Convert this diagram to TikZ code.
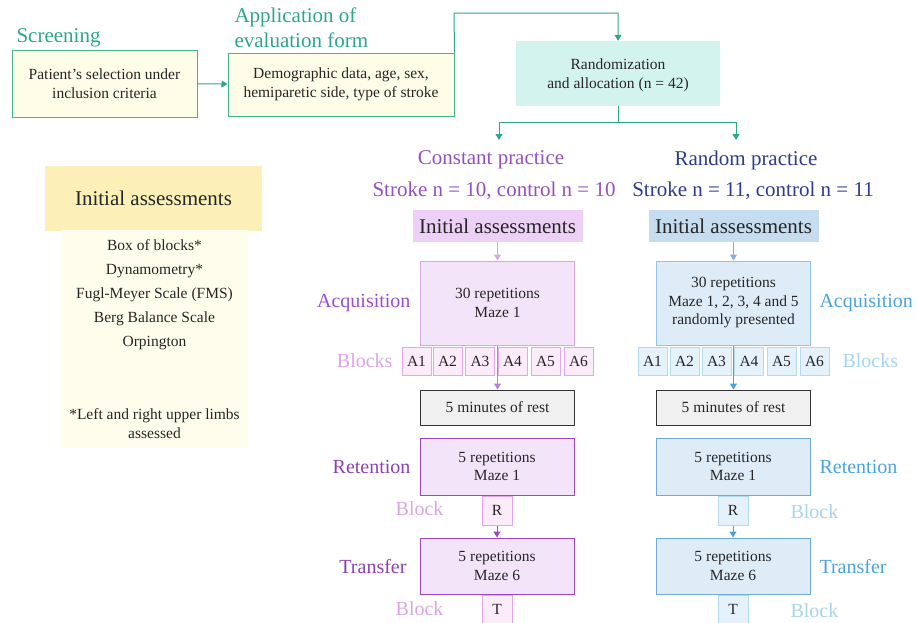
\documentclass[tikz,border=0pt]{standalone}
\usepackage{fontspec}
\setmainfont{Liberation Serif}
\usetikzlibrary{positioning,arrows.meta}
\definecolor{tealc}{HTML}{2BA78A}
\definecolor{boxgreen}{HTML}{45B58A}
\definecolor{paleyel}{HTML}{FDFDE8}
\definecolor{randfill}{HTML}{D3F3EE}
\definecolor{cpurple}{HTML}{9650BE}
\definecolor{rblue}{HTML}{2D3C8C}
\definecolor{iapurple}{HTML}{ECD0F5}
\definecolor{iablue}{HTML}{C6DDF0}
\definecolor{lpfill}{HTML}{F4E4FA}
\definecolor{lpdraw}{HTML}{D7A7E8}
\definecolor{pkfill}{HTML}{FCEBF8}
\definecolor{pkdraw}{HTML}{E0A8EA}
\definecolor{dpurple}{HTML}{9A48C6}
\definecolor{acqp}{HTML}{9B4DCA}
\definecolor{blkp}{HTML}{DCA4E8}
\definecolor{lbfill}{HTML}{DEECF8}
\definecolor{lbdraw}{HTML}{93C3E7}
\definecolor{skyfill}{HTML}{E6F2FB}
\definecolor{skydraw}{HTML}{B4DAF0}
\definecolor{dblue}{HTML}{6FAAD8}
\definecolor{acqb}{HTML}{4AA3DC}
\definecolor{blkb}{HTML}{A6D4EE}
\definecolor{restfill}{HTML}{EFF0EF}
\definecolor{iahead}{HTML}{FCF0B8}
\definecolor{iabody}{HTML}{FFFDEB}
\tikzset{
  txt/.style={font=\fontsize{15.5}{18.5}\selectfont,align=center,text=black!85},
  big/.style={font=\fontsize{21}{25}\selectfont},
  side/.style={font=\fontsize{20}{24}\selectfont},
  head/.style={font=\fontsize{21}{25}\selectfont,text=black!85},
  arr/.style={line width=1pt,-{Triangle[width=7pt,length=6pt]}},
  topbox/.style={txt,draw=boxgreen,fill=paleyel,line width=1pt},
  stagebox/.style={txt,minimum width=154pt,minimum height=#1,inner sep=1pt,line width=1pt},
  blkbox/.style={txt,minimum width=29pt,minimum height=28pt,inner sep=0pt,line width=1pt},
}
\begin{document}
\begin{tikzpicture}[x=1pt,y=-1pt]
\useasboundingbox (0,0) rectangle (917,622);
\node(scr)[topbox,minimum width=185pt,minimum height=67pt] at (104.5,83.5){Patient's selection under\\inclusion criteria};
\node(scrlbl)[big,text=tealc,anchor=base west] at (13,42){Screening};
\node(app)[topbox,minimum width=226pt,minimum height=63pt] at (341,84.5){Demographic data, age, sex,\\hemiparetic side, type of stroke};
\node(applbl)[big,text=tealc,align=left,anchor=base west,font=\fontsize{21}{25}\selectfont] at (231,47){Application of\\evaluation form};
\node(rand)[txt,fill=randfill,minimum width=204pt,minimum height=65pt,text depth=0pt] at (618,73.5){Randomization\\and allocation (n = 42)};
\coordinate(top) at (454,13);
\coordinate(split) at (618,122);
\coordinate(cparr) at (499,140);
\coordinate(rparr) at (736,140);
\draw[arr,tealc] (scr) -- (app);
\draw[arr,tealc] (app.north east) -- (top) -| (rand);
\draw[line width=1pt,tealc] (rand) -- (split);
\draw[arr,tealc] (split) -| (cparr);
\draw[arr,tealc] (split) -| (rparr);
\node(cp)[big,text=cpurple] at (491,160){Constant practice};
\node(cpn)[big,text=cpurple] at (494,191){Stroke n = 10, control n = 10};
\node(rp)[big,text=rblue] at (746,160){Random practice};
\node(rpn)[big,text=rblue] at (753,191){Stroke n = 11, control n = 11};
\node(iah)[head,fill=iahead,minimum width=217pt,minimum height=65pt] at (153.5,198.5){Initial assessments};
\node(iab)[txt,font=\fontsize{15.5}{19}\selectfont,fill=iabody,minimum width=187pt,minimum height=218pt] at (154.5,339){Box of blocks*\\[5pt]Dynamometry*\\[5pt]Fugl-Meyer Scale (FMS)\\[5pt]Berg Balance Scale\\[5pt]Orpington\\[54pt]*Left and right upper limbs\\assessed};
\node(ia1)[head,fill=iapurple,minimum width=170pt,minimum height=32pt] at (497.5,226){Initial assessments};
\node(ia2)[head,fill=iablue,minimum width=170pt,minimum height=32pt] at (733.5,226){Initial assessments};
\node(acq1)[stagebox=84pt,fill=lpfill,draw=lpdraw] at (497.5,303){30 repetitions\\Maze 1};
\node(acq2)[stagebox=84pt,fill=lbfill,draw=lbdraw] at (733.5,303){30 repetitions\\Maze 1, 2, 3, 4 and 5\\randomly presented};
\foreach \i/\x in {1/416.5,2/447.5,3/480,4/512.5,5/545.5,6/578.5}
  \node(pa\i)[blkbox,fill=pkfill,draw=pkdraw] at (\x,361){A\i};
\foreach \i/\x in {1/652.5,2/684.5,3/716.5,4/749,5/781.5,6/814.5}
  \node(ba\i)[blkbox,fill=skyfill,draw=skydraw] at (\x,361){A\i};
\node(rest1)[stagebox=35pt,fill=restfill,draw=black!80] at (497.5,407.5){5 minutes of rest};
\node(rest2)[stagebox=35pt,fill=restfill,draw=black!80] at (733.5,407.5){5 minutes of rest};
\node(ret1)[stagebox=57pt,fill=lpfill,draw=dpurple] at (497,466.5){5 repetitions\\Maze 1};
\node(ret2)[stagebox=57pt,fill=lbfill,draw=dblue] at (733,466.5){5 repetitions\\Maze 1};
\node(r1)[blkbox,minimum width=30pt,minimum height=29pt,fill=pkfill,draw=pkdraw] at (497,510.5){R};
\node(r2)[blkbox,minimum width=30pt,minimum height=29pt,fill=skyfill,draw=skydraw] at (733,510.5){R};
\node(tr1)[stagebox=56pt,fill=lpfill,draw=dpurple] at (497,566){5 repetitions\\Maze 6};
\node(tr2)[stagebox=56pt,fill=lbfill,draw=dblue] at (733,566){5 repetitions\\Maze 6};
\node(t1)[blkbox,minimum width=30pt,fill=pkfill,draw=pkdraw] at (497,609){T};
\node(t2)[blkbox,minimum width=30pt,fill=skyfill,draw=skydraw] at (733,609){T};
\draw[arr,draw=lpdraw,fill=lpdraw] (ia1) -- (acq1);
\draw[arr,draw=lbdraw!90!blue,fill=lbdraw!90!blue] (ia2) -- (acq2);
\draw[arr,draw=acqp!70,fill=acqp!70] (acq1) -- (rest1);
\draw[arr,draw=acqb,fill=acqb] (acq2) -- (rest2);
\draw[arr,draw=dpurple,fill=dpurple] (r1) -- (tr1);
\draw[arr,draw=acqb,fill=acqb] (r2) -- (tr2);
\node(acql1)[side,text=acqp,anchor=east] at (414,303){Acquisition};
\node(blkl1)[side,text=blkp,anchor=east] at (396,361){Blocks};
\node(retl1)[side,text=dpurple!90!black,anchor=east] at (414,467){Retention};
\node(rbl1)[side,text=blkp,anchor=east] at (447,509){Block};
\node(trl1)[side,text=dpurple!90!black,anchor=east] at (410,567){Transfer};
\node(tbl1)[side,text=blkp,anchor=east] at (447,609){Block};
\node(acql2)[side,text=acqb,anchor=west] at (816,303){Acquisition};
\node(blkl2)[side,text=blkb,anchor=west] at (839,361){Blocks};
\node(retl2)[side,text=acqb,anchor=west] at (816,467){Retention};
\node(rbl2)[side,text=blkb,anchor=west] at (787,512){Block};
\node(trl2)[side,text=acqb,anchor=west] at (816,567){Transfer};
\node(tbl2)[side,text=blkb,anchor=west] at (787,611){Block};
\end{tikzpicture}
\end{document}
